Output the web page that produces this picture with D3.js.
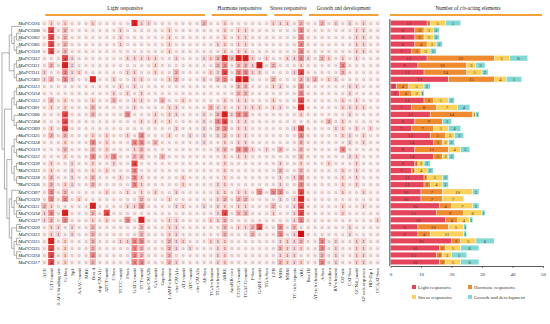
<!DOCTYPE html>
<html><head><meta charset="utf-8">
<script src="https://cdn.jsdelivr.net/npm/d3@7"></script>
<style>
body{margin:0;background:#fff}
svg{display:block}
text{font-family:"Liberation Serif","Times New Roman",serif}
</style>
</head><body>
<svg id="c" width="550" height="324"></svg>
<script>
// ---------------- DATA ----------------
const genes = ["MaPCO16","MaPCO08","MaPCO02","MaPCO05","MaPCO10","MaPCO32","MaPCO21","MaPCO11","MaPCO03","MaPCO13","MaPCO14","MaPCO12","MaPCO01","MaPCO06","MaPCO04","MaPCO09","MaPCO25","MaPCO24","MaPCO19","MaPCO22","MaPCO30","MaPCO33","MaPCO28","MaPCO26","MaPCO07","MaPCO29","MaPCO31","MaPCO34","MaPCO27","MaPCO20","MaPCO23","MaPCO15","MaPCO35","MaPCO18","MaPCO17"];

const elements = ["ACE","GT1-motif","3-AF1 binding site","G-Box","Sp1","AAAC-motif","MRE","Box 4","sbp-CMA1c","ATCT-motif","C-box","TCCC-motif","I-box","GATA-motif","TCT-motif","chs-CMA2b","GA-motif","Gap-box","LAMP-element","chs-CMA1a","AT1-motif","ATC-motif","chs-CMA2a","AE-box","TGA-element","TCA-element","ABRE","AuxRR-core","CGTCA-motif","TGACG-motif","P-box","GARE-motif","TGA-box","LTR","MBS","MBSI","TC-rich repeats","ARE","Box III","AT-rich element","A-box","circadian","RY-element","O2-site","CAT-box","GCN4_motif","AT-rich sequence","HD-Zip 1","CCAAT-box"];

const groupNames = ["Light responsive","Hormone responsive","Stress responsive","Growth and development"];
const groupSizes = [24, 9, 5, 11];

// element counts per gene (column index : count), zeros omitted
const elementCounts = [
 {1:1,3:1,7:1,13:5,14:1,15:1,23:2,26:1,33:1,34:1,35:1,37:2,40:2,42:1,44:1,46:1},
 {1:4,3:2,11:1,18:1,26:1,28:1,29:1,37:3,45:1,46:1},
 {1:4,3:2,11:1,18:1,26:1,28:1,29:1,37:3,45:1,46:1},
 {1:4,3:2,11:1,18:1,25:1,26:1,28:1,29:1,37:3,45:1,46:1},
 {1:4,3:2,18:1,26:1,28:1,29:1,37:3,45:1,46:1},
 {3:4,4:1,12:1,13:1,14:1,15:1,16:1,19:1,23:1,24:1,25:2,26:5,27:2,28:5,29:5,30:1,32:1,35:1,36:1,37:3,38:1,40:2,41:1,43:1,45:1},
 {1:2,3:5,4:1,16:1,25:2,26:3,28:2,29:2,30:1,31:6,33:2,37:1,43:3},
 {0:1,3:3,4:1,5:1,12:1,13:1,16:1,19:2,24:1,25:1,26:4,28:3,29:3,30:1,31:1,36:1,37:4,43:2},
 {0:1,1:2,3:3,4:1,7:5,10:1,13:1,14:1,18:1,19:2,23:1,25:2,26:3,28:5,29:5,33:2,37:2,38:1,39:2,41:1,42:1},
 {11:1,13:1,28:2,29:2,33:1,34:1,37:3,44:1,45:1},
 {10:1,12:1,14:1,28:2,29:2,37:3,44:1},
 {1:2,3:1,7:1,10:2,13:1,14:1,17:2,20:1,26:1,28:1,29:1,33:1,37:4,43:1,45:1},
 {1:1,3:1,7:2,13:1,18:1,19:1,24:2,25:1,26:1,28:1,29:1,30:1,31:1,33:1,34:1,37:5,43:1,44:1,45:1,46:1},
 {3:4,7:2,12:3,16:1,18:1,19:1,23:1,25:2,26:5,27:1,28:3,29:3,37:1,44:1},
 {3:4,14:1,16:1,18:1,23:1,25:3,26:4,28:1,29:1,41:2,43:1},
 {1:1,3:4,19:1,23:1,25:2,26:3,28:1,29:1,36:1,37:4,42:1,43:1,45:1,47:1},
 {1:2,3:2,7:1,9:1,12:1,14:3,18:1,21:1,23:1,25:1,26:2,28:1,29:1,37:3,43:1,44:1,46:1},
 {3:1,7:3,9:1,13:3,14:3,16:2,23:1,26:1,28:1,29:1,37:2,44:1,46:1},
 {3:2,7:2,9:1,13:1,14:2,25:1,26:2,28:3,29:3,30:1,32:1,34:2,37:2,43:3},
 {3:1,7:3,9:1,10:3,13:2,14:2,17:2,26:1,28:1,29:1,37:2,44:1,45:1},
 {1:1,4:1,7:1,10:1,13:4,26:1,34:1,37:1,41:1,45:1},
 {1:1,4:1,7:1,9:1,13:3,26:1,34:2,37:2,43:1,45:1},
 {1:2,4:1,7:2,11:1,13:3,14:1,20:1,26:1,34:1,36:1,37:3,43:1,45:1},
 {1:2,3:1,4:1,7:2,13:3,14:1,20:1,25:1,26:1,34:1,37:3,43:1,45:1},
 {1:3,3:2,9:1,12:1,14:1,16:1,19:1,25:1,26:1,28:1,29:1,31:3,33:3,34:3,37:4,43:1,46:1},
 {1:3,3:3,5:1,14:2,18:1,25:1,26:2,28:2,29:2,34:1,36:1,37:5},
 {0:2,1:1,7:5,12:1,13:1,14:3,19:1,20:1,23:1,25:1,26:1,28:1,29:1,33:2,36:1,37:4,43:1,46:1},
 {0:1,1:3,3:5,7:2,9:4,25:1,26:4,28:2,29:2,33:1,36:1,37:4,43:1},
 {0:1,1:2,3:3,7:1,9:1,12:3,14:5,18:1,19:1,24:1,25:1,26:2,36:1,37:3,48:1},
 {1:1,2:1,4:1,7:2,14:2,18:1,19:1,26:2,28:1,29:1,30:2,31:4,34:3,36:2,44:1},
 {1:1,2:1,4:1,7:2,14:2,18:1,19:1,26:2,30:2,34:3,36:1,37:7,44:1},
 {1:5,3:1,7:2,11:1,12:1,13:3,14:3,18:2,19:1,20:1,24:1,25:1,26:1,34:1,35:1,36:1,37:2,40:3,42:1,45:1,46:1},
 {1:4,3:1,7:2,13:3,14:2,18:2,19:1,21:1,25:1,26:1,34:2,35:1,36:1,37:1,40:3,42:1,45:1,46:1},
 {1:4,3:1,7:3,13:3,14:2,18:2,25:1,26:1,34:1,35:1,36:1,40:2,42:1,45:1,46:1},
 {1:4,3:1,7:2,13:3,14:3,18:2,19:1,25:1,26:1,34:2,35:1,36:1,37:1,40:3,42:1,45:1,46:1}
];

// stacked bar values (number of cis-acting elements per category)
const lightCounts   = [12,8,8,8,7,12,9,11,19,2,3,11,7,13,8,7,13,14,8,14,8,7,11,11,10,10,16,15,18,9,9,20,16,15,16];
const hormoneCounts = [1,3,3,4,3,22,16,14,15,4,4,3,8,14,9,7,5,3,11,3,1,1,1,2,7,7,4,9,4,10,4,3,2,2,2];
const stressCounts  = [5,3,3,3,3,5,3,5,4,5,3,5,7,1,0,5,3,2,4,2,2,4,5,4,10,7,7,6,4,5,11,5,5,3,5];
const growthCounts  = [5,2,2,2,2,6,3,2,5,2,1,2,4,1,3,4,3,2,3,2,2,2,2,2,2,0,2,1,1,1,1,6,6,5,6];
const barTicks = [0,10,20,30,40,50];

// gene tree topology (leaf ids = MaPCO numbers)
const geneTree = [
 [ [ "16", [["08","02"],["05","10"]] ], [["32","21"],["11","03"]] ],
 [ [ [["13","14"],["12","01"]], ["06",["04","09"]] ],
   [ [ [["25","24"],["19","22"]], [["30","33"],["28","26"]] ],
     [ ["07", [["29","31"],["34","27"]]], [["20","23"],[["15","35"],["18","17"]]] ] ] ]
];

// ---------------- DRAW ----------------
const svg = d3.select("#c");
const FS = 5;

const x = d3.scaleBand().domain(elements).range([40.8, 380.9]).paddingInner(0.12).paddingOuter(0.06);
const y = d3.scaleBand().domain(genes).range([19.5, 265.5]).paddingInner(0.12).paddingOuter(0.06);

const color = d3.scaleLinear()
  .domain([0,1,2,3,4,5,7])
  .range(["#fdeded","#fad2d2","#f6b6b6","#f08b8b","#e84a4b","#e2211f","#d80f0f"])
  .clamp(true);

// matrix
const cells = [];
genes.forEach((g,i)=>{
  elements.forEach((e,j)=>{
    cells.push({g, e, v: elementCounts[i][j] || 0});
  });
});

const heat = svg.append("g");
heat.selectAll("rect").data(cells).join("rect")
  .attr("x", d=>x(d.e)).attr("y", d=>y(d.g))
  .attr("width", x.bandwidth()).attr("height", y.bandwidth())
  .attr("fill", d=>color(d.v));
heat.selectAll("text").data(cells).join("text")
  .attr("x", d=>x(d.e)+x.bandwidth()/2)
  .attr("y", d=>y(d.g)+y.bandwidth()/2)
  .attr("dy","0.36em")
  .attr("text-anchor","middle")
  .attr("font-size", FS)
  .attr("fill", d=>d.v===0 ? "#8c8c8c" : "#3a3a3a")
  .text(d=>d.v);

// column labels
svg.append("g").selectAll("text").data(elements).join("text")
  .attr("transform", d=>`translate(${x(d)+x.bandwidth()/2+1.7},268) rotate(-90)`)
  .attr("text-anchor","end")
  .attr("font-size", FS)
  .attr("fill","#222")
  .text(d=>d);

// row labels
svg.append("g").selectAll("text").data(genes).join("text")
  .attr("x", 39.8).attr("y", d=>y(d)+y.bandwidth()/2).attr("dy","0.36em")
  .attr("text-anchor","end")
  .attr("font-size", FS)
  .attr("font-style","italic")
  .attr("fill","#222")
  .text(d=>d);

// group headers
const orange = "#f5a13a";
let startIdx = 0;
groupNames.forEach((name,k)=>{
  const a = x(elements[startIdx]);
  const b = x(elements[startIdx+groupSizes[k]-1]) + x.bandwidth();
  svg.append("line").attr("x1", a+4).attr("x2", b-2).attr("y1",15).attr("y2",15)
    .attr("stroke", orange).attr("stroke-width", 2);
  svg.append("text").attr("x",(a+b)/2+1).attr("y",10).attr("text-anchor","middle")
    .attr("font-size", FS+0.3).attr("fill","#222").text(name);
  startIdx += groupSizes[k];
});

// tree
const root = d3.hierarchy(geneTree, d => Array.isArray(d) ? d : null);
const firstY = y(genes[0]) + y.bandwidth()/2;
const lastY = y(genes[genes.length-1]) + y.bandwidth()/2;
d3.cluster().size([lastY-firstY, 17]).separation(()=>1)(root);
const tx = d => 2 + d.y, ty = d => firstY + d.x;
const treeG = svg.append("g").attr("fill","none").attr("stroke","#7a7a7a").attr("stroke-width",0.6);
root.links().forEach(l=>{
  treeG.append("path").attr("d", `M${tx(l.source)},${ty(l.source)}V${ty(l.target)}H${tx(l.target)}`);
});
root.leaves().forEach(l=>{
  treeG.append("line").attr("x1", tx(l)).attr("x2", 21).attr("y1", ty(l)).attr("y2", ty(l));
});

// stacked bars
const barData = genes.map((g,i)=>({gene:g, light:lightCounts[i], hormone:hormoneCounts[i], stress:stressCounts[i], growth:growthCounts[i]}));
const keys = ["light","hormone","stress","growth"];
const keyLabels = {light:"Light responsive", hormone:"Hormone responsive", stress:"Stress responsive", growth:"Growth and development"};
const barColor = d3.scaleOrdinal().domain(keys).range(["#e5455a","#ef8a2e","#fbd35c","#80d9d4"]);
const xb = d3.scaleLinear().domain([0,50]).range([390.5, 543]);
const yb = d3.scaleBand().domain(genes).range([19.5, 265.5]).paddingInner(0.2).paddingOuter(0.1);
const series = d3.stack().keys(keys)(barData);

const barsG = svg.append("g");
series.forEach(s=>{
  barsG.append("g").selectAll("rect").data(s).join("rect")
    .attr("x", d=>xb(d[0])).attr("y", d=>yb(d.data.gene))
    .attr("width", d=>xb(d[1])-xb(d[0])).attr("height", yb.bandwidth())
    .attr("fill", barColor(s.key)).attr("stroke","#fff").attr("stroke-width",0.4);
  barsG.append("g").selectAll("text").data(s.filter(d=>d[1]-d[0]>0)).join("text")
    .attr("x", d=>(xb(d[0])+xb(d[1]))/2).attr("y", d=>yb(d.data.gene)+yb.bandwidth()/2)
    .attr("dy","0.36em").attr("text-anchor","middle").attr("font-size", FS)
    .attr("fill","#5a3030").text(d=>d[1]-d[0]);
});

// bar axes
svg.append("line").attr("x1",389.8).attr("x2",389.8).attr("y1",19).attr("y2",266)
  .attr("stroke","#666").attr("stroke-width",1.2);
const ax = svg.append("g").attr("transform","translate(0,266)")
  .call(d3.axisBottom(xb).tickValues(barTicks).tickSize(2).tickSizeOuter(0));
ax.select(".domain").attr("stroke","#333").attr("stroke-width",0.8);
ax.selectAll(".tick line").attr("stroke","#333").attr("stroke-width",0.6);
ax.selectAll(".tick text").attr("font-size",FS).attr("fill","#333").attr("dy","0.9em")
  .attr("font-family","Liberation Serif, serif");

// bar header
svg.append("line").attr("x1",390).attr("x2",542).attr("y1",15).attr("y2",15)
  .attr("stroke",orange).attr("stroke-width",2);
const bt = svg.append("text").attr("x",468).attr("y",10).attr("text-anchor","middle")
  .attr("font-size",FS+0.3).attr("fill","#222");
bt.append("tspan").text("Number of ");
bt.append("tspan").attr("font-style","italic").text("cis");
bt.append("tspan").text("-acting elements");

// legend
const legPos = [[412,287],[468,287],[412,297],[468,297]];
keys.forEach((k,i)=>{
  const [lx,ly] = legPos[i];
  svg.append("rect").attr("x",lx).attr("y",ly-2).attr("width",4).attr("height",4).attr("fill",barColor(k));
  svg.append("text").attr("x",lx+6).attr("y",ly).attr("dy","0.36em").attr("font-size",FS)
    .attr("fill","#333").text(keyLabels[k]);
});
</script>
</body></html>
